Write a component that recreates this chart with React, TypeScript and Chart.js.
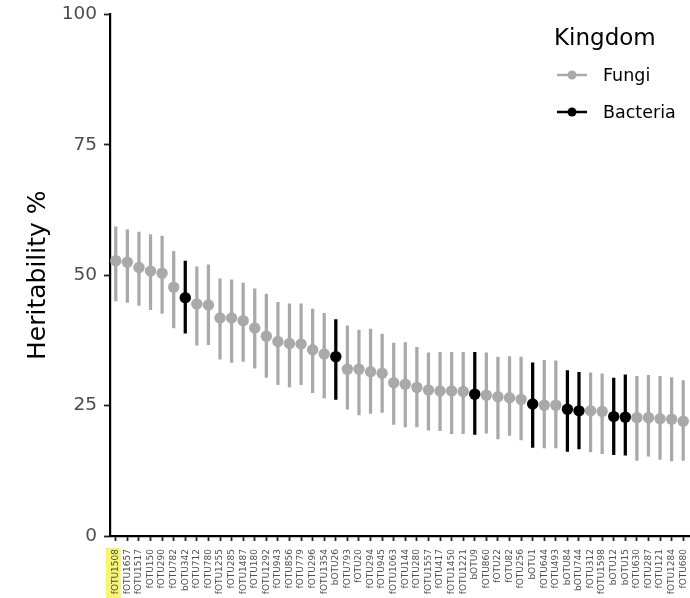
import React, { useEffect, useRef } from "react";
import { Chart, registerables } from "chart.js";

Chart.register(...registerables);

const categories = [
  "fOTU1508", "fOTU1657", "fOTU1517", "fOTU150", "fOTU290", "fOTU782", "bOTU342", "fOTU712", "fOTU780", "fOTU1255",
  "fOTU285", "fOTU1487", "fOTU180", "fOTU1292", "fOTU943", "fOTU856", "fOTU779", "fOTU296", "fOTU1354", "bOTU26",
  "fOTU793", "fOTU20", "fOTU294", "fOTU945", "fOTU1063", "fOTU144", "fOTU280", "fOTU1557", "fOTU417", "fOTU1450",
  "fOTU1221", "bOTU9", "fOTU860", "fOTU22", "fOTU82", "fOTU256", "bOTU1", "fOTU644", "fOTU493", "bOTU84",
  "bOTU744", "fOTU312", "fOTU1598", "bOTU12", "bOTU15", "fOTU630", "fOTU287", "fOTU121", "fOTU1284", "fOTU680",
];

const heritability = [
  52.8, 52.5, 51.5, 50.8, 50.4, 47.7, 45.7, 44.5, 44.3, 41.8,
  41.8, 41.3, 39.9, 38.3, 37.3, 36.9, 36.8, 35.7, 34.9, 34.4,
  32.0, 32.0, 31.5, 31.2, 29.4, 29.1, 28.5, 28.0, 27.8, 27.8,
  27.7, 27.2, 27.0, 26.7, 26.5, 26.2, 25.3, 25.1, 25.1, 24.3,
  24.0, 24.0, 23.9, 22.9, 22.8, 22.7, 22.7, 22.5, 22.4, 22.0,
];

const upper = [
  59.3, 58.7, 58.3, 57.8, 57.5, 54.6, 52.7, 51.6, 52.0, 49.3,
  49.1, 48.5, 47.4, 46.4, 44.8, 44.5, 44.5, 43.5, 42.7, 41.5,
  40.3, 39.5, 39.7, 38.7, 37.0, 37.1, 36.2, 35.1, 35.2, 35.2,
  35.2, 35.2, 35.1, 34.3, 34.4, 34.3, 33.2, 33.7, 33.6, 31.7,
  31.4, 31.3, 31.1, 30.3, 30.9, 30.6, 30.8, 30.6, 30.4, 29.8,
];

const lower = [
  45.1, 44.8, 44.2, 43.4, 42.7, 39.9, 38.9, 36.6, 36.7, 33.9,
  33.3, 33.5, 32.2, 30.4, 29.0, 28.6, 29.0, 27.5, 26.5, 26.2,
  24.3, 23.2, 23.5, 23.7, 21.4, 20.9, 20.9, 20.3, 20.2, 19.6,
  19.6, 19.5, 19.7, 18.6, 19.3, 18.4, 17.0, 16.9, 16.9, 16.2,
  16.7, 16.1, 15.8, 15.6, 15.5, 14.5, 15.3, 14.7, 14.4, 14.5,
];

const kingdoms = ["Fungi", "Bacteria"];
const kingdomOf = categories.map((c) => (c.startsWith("b") ? "Bacteria" : "Fungi"));
const yTicks = [0, 25, 50, 75, 100];

const FONT = "'DejaVu Sans', sans-serif";
const GREY = "#a9a9a9";
const BLACK = "#000000";
const colorOf = (k: string) => (k === "Bacteria" ? BLACK : GREY);

const extrasPlugin = {
  id: "extras",
  beforeDraw(chart: any) {
    const ctx = chart.ctx;
    const xs = chart.scales.x;
    const px = xs.getPixelForValue(0);
    ctx.save();
    ctx.fillStyle = "#f7f56c";
    ctx.fillRect(px - 10, 548, 15, chart.height - 548);
    ctx.restore();
  },
  afterDraw(chart: any) {
    const ctx = chart.ctx;
    ctx.save();
    ctx.fillStyle = "#000";
    ctx.textBaseline = "alphabetic";
    ctx.textAlign = "left";
    ctx.font = `23px ${FONT}`;
    ctx.fillText("Kingdom", 554, 45);
    const rows = [75, 112];
    kingdoms.forEach((k, i) => {
      const y = rows[i];
      const c = colorOf(k);
      ctx.strokeStyle = c;
      ctx.lineWidth = 2.5;
      ctx.beginPath();
      ctx.moveTo(557, y);
      ctx.lineTo(587, y);
      ctx.stroke();
      ctx.fillStyle = c;
      ctx.beginPath();
      ctx.arc(572, y, 4.5, 0, Math.PI * 2);
      ctx.fill();
      ctx.fillStyle = "#000";
      ctx.font = `17.5px ${FONT}`;
      ctx.textBaseline = "middle";
      ctx.fillText(k, 603, y + 1);
    });
    ctx.restore();
  },
};

export default function App() {
  const ref = useRef<HTMLCanvasElement | null>(null);

  useEffect(() => {
    document.body.style.margin = "0";
    if (!ref.current) return;
    const colors = kingdomOf.map(colorOf);
    const chart = new Chart(ref.current, {
      type: "bar",
      data: {
        labels: categories,
        datasets: [
          {
            type: "bar",
            label: "interval",
            data: categories.map((_, i) => [lower[i], upper[i]]) as any,
            backgroundColor: colors,
            borderWidth: 0,
            barThickness: 2.6,
            order: 2,
          } as any,
          ...kingdoms.map((k) => ({
            type: "line",
            label: k,
            data: heritability.map((v, i) => (kingdomOf[i] === k ? v : null)),
            showLine: false,
            pointRadius: 5.7,
            pointHoverRadius: 5.7,
            pointBackgroundColor: colorOf(k),
            pointBorderWidth: 0,
            borderColor: colorOf(k),
            clip: false,
            order: 1,
          })),
        ],
      },
      options: {
        responsive: false,
        animation: false,
        events: [],
        layout: { autoPadding: false, padding: { top: 14.5, right: 1, left: 0, bottom: 0 } },
        plugins: {
          legend: { display: false },
          tooltip: { enabled: false },
        },
        scales: {
          x: {
            type: "category",
            offset: true,
            grid: {
              display: true,
              drawOnChartArea: false,
              tickLength: 5,
              tickWidth: 1.8,
              tickColor: "#222",
              offset: false,
            },
            border: { display: true, color: "#000", width: 2.2 },
            ticks: {
              autoSkip: false,
              minRotation: 90,
              maxRotation: 90,
              padding: 8,
              color: "#4d4d4d",
              font: { family: FONT, size: 9, lineHeight: 0.2 },
            },
            afterFit(scale: any) {
              scale.height = 62;
              scale.paddingLeft = 0;
              scale.paddingRight = 0;
            },
          },
          y: {
            type: "linear",
            min: 0,
            max: 100,
            afterBuildTicks(scale: any) {
              scale.ticks = yTicks.map((v) => ({ value: v }));
            },
            grid: {
              display: true,
              drawOnChartArea: false,
              tickLength: 6,
              tickWidth: 1.8,
              tickColor: "#222",
            },
            border: { display: true, color: "#000", width: 2.2 },
            ticks: {
              padding: 7,
              color: "#4d4d4d",
              font: { family: FONT, size: 18.5, lineHeight: 0.5 },
            },
            title: {
              display: true,
              text: "Heritability %",
              color: "#000",
              font: { family: FONT, size: 25 },
              padding: { top: 23, bottom: 0 },
            },
            afterFit(scale: any) {
              scale.width = 110;
              scale.paddingTop = 0;
              scale.paddingBottom = 0;
            },
          },
        },
      },
      plugins: [extrasPlugin],
    });
    return () => chart.destroy();
  }, []);

  return (
    <div style={{ width: 690, height: 598, position: "relative" }}>
      <canvas ref={ref} width={690} height={598} style={{ display: "block" }} />
    </div>
  );
}
